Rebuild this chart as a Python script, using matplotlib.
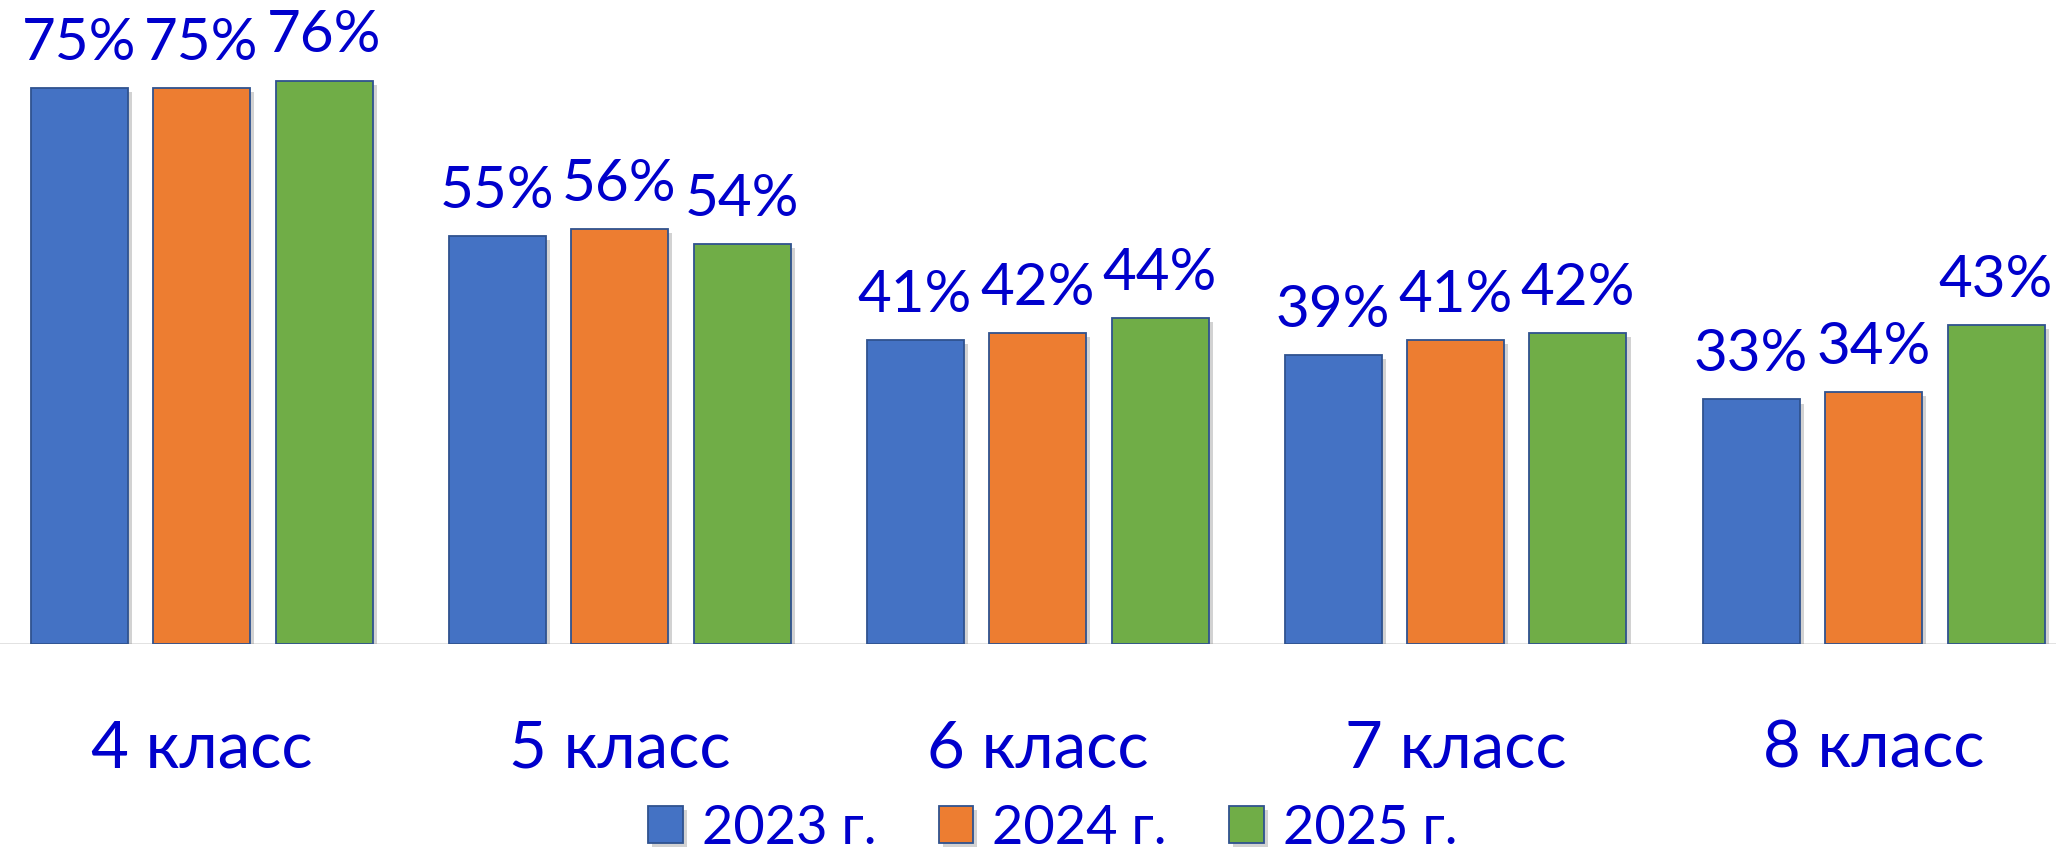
import numpy as np
import matplotlib
matplotlib.use("Agg")
import matplotlib.pyplot as plt
import matplotlib.patheffects as pe

plt.rcParams['font.family'] = ['Lato', 'DejaVu Sans']

cats = ['4 класс', '5 класс', '6 класс', '7 класс', '8 класс']
years = ['2023 г.', '2024 г.', '2025 г.']
v2023 = [75, 55, 41, 39, 33]
v2024 = [75, 56, 42, 41, 34]
v2025 = [76, 54, 44, 42, 43]
colors = ['#4472C4', '#ED7D31', '#70AD47']
txt = '#0000CC'

W, H = 2056, 853
fig = plt.figure(figsize=(W / 100, H / 100), dpi=100)
ax = fig.add_axes([-7.5 / W, 208 / H, 2090 / W, 593 / H])

x = np.arange(len(cats))
step = 122.5 / 418
bw = 97 / 418
shadow = [pe.SimplePatchShadow(offset=(3, -3), shadow_rgbFace='#808080', alpha=0.35), pe.Normal()]

handles = []
for i, (vals, c, lab) in enumerate(zip([v2023, v2024, v2025], colors, years)):
    bars = ax.bar(x + (i - 1) * step, vals, bw, color=c, edgecolor='#2F528F',
                  linewidth=1.3, label=lab, zorder=3)
    for b in bars:
        b.set_path_effects(shadow)
    handles.append(bars)
    for xi, v in zip(x + (i - 1) * step, vals):
        ax.annotate(f'{v}%', (xi, v), xytext=(0, 21), textcoords='offset points',
                    ha='center', va='baseline', fontsize=42, color=txt,
                    annotation_clip=False)

ax.axhline(0, color='#D9D9D9', lw=1.8, zorder=1)
ax.set_xlim(-0.5, 4.5)
ax.set_ylim(0, 80)
for s in ax.spines.values():
    s.set_visible(False)
ax.set_yticks([])
ax.set_xticks(x, cats)
ax.tick_params(axis='x', length=0, pad=88, labelsize=47, labelcolor=txt)
for t in ax.get_xticklabels():
    t.set_va('baseline')

fig.legend(handles=handles, labels=years, loc='center', bbox_to_anchor=(0.512, 24 / H),
           ncol=3, frameon=False, fontsize=39, labelcolor=txt,
           handlelength=0.64, handleheight=0.68, handletextpad=0.35,
           columnspacing=1.15, borderpad=0)

fig.savefig('out.png', dpi=100)
